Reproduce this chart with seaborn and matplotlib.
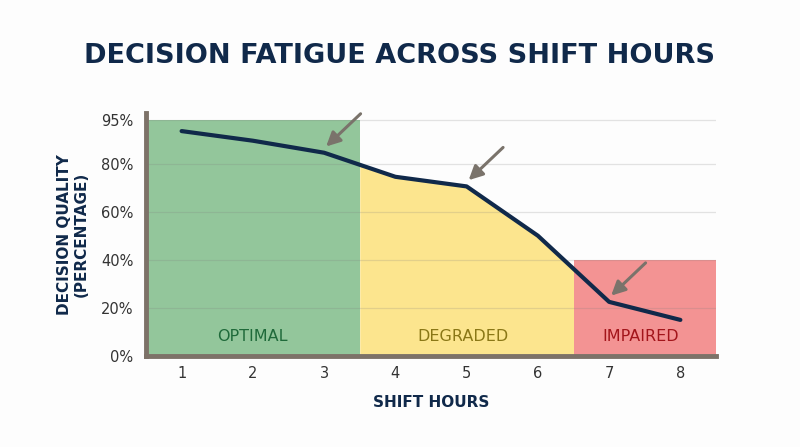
import numpy as np
import pandas as pd
import matplotlib
matplotlib.use("Agg")
import matplotlib.pyplot as plt
import seaborn as sns

# ---- data ----
hours = [1, 2, 3, 4, 5, 6, 7, 8]
quality = [93.5, 89.5, 84.5, 74.5, 70.5, 50, 22.5, 15]
ytick_vals = [0, 20, 40, 60, 80, 98]
ytick_labels = ["0%", "20%", "40%", "60%", "80%", "95%"]
zones = ["OPTIMAL", "DEGRADED", "IMPAIRED"]
zone_ranges = [(0.5, 3.5), (3.5, 6.5), (6.5, 8.5)]
zone_tops = [98, None, 40]  # None -> filled under curve
arrow_hours = [3, 5, 7]

title = "DECISION FATIGUE ACROSS SHIFT HOURS"
xlabel = "SHIFT HOURS"
ylabel = "DECISION QUALITY\n(PERCENTAGE)"

sns.set_theme(style="white")
plt.rcParams['font.family'] = ['DejaVu Sans']

navy = "#10294a"
fig = plt.figure(figsize=(8, 4.47), dpi=100)
fig.patch.set_facecolor("#fdfdfd")
ax = fig.add_axes([0.1825, 0.2036, 0.7125, 0.5435])
ax.set_facecolor("#fdfdfd")

df = pd.DataFrame({"hour": hours, "quality": quality})

zone_fill = ["#93c69b", "#fce58e", "#f39393"]
zone_text = ["#1f6a3a", "#8a7716", "#a3151b"]

# green zone
ax.fill_between(zone_ranges[0], [0, 0], [zone_tops[0]] * 2, color=zone_fill[0], lw=0, zorder=1)
# yellow zone: under curve
xx = np.linspace(zone_ranges[1][0], zone_ranges[1][1], 200)
yy = np.interp(xx, hours, quality)
ax.fill_between(xx, 0, yy, color=zone_fill[1], lw=0, zorder=1)
# red zone
ax.fill_between(zone_ranges[2], [0, 0], [zone_tops[2]] * 2, color=zone_fill[2], lw=0, zorder=1)

# gridlines
for v in ytick_vals[1:]:
    ax.axhline(v, color="#7a7a7a", alpha=0.2, lw=0.9, zorder=2)

sns.lineplot(data=df, x="hour", y="quality", color=navy, lw=3.0, ax=ax, zorder=4)

# zone labels
label_x = [2.0, 4.95, 7.45]
for name, lx, c in zip(zones, label_x, zone_text):
    ax.text(lx, 8, name, ha="center", va="center", fontsize=11.5, color=c, zorder=5)

# arrows
for h in arrow_hours:
    q = quality[hours.index(h)]
    ax.annotate("", xy=(h, q + 1.8), xytext=(h + 0.54, q + 17),
                arrowprops=dict(arrowstyle="-|>,head_length=0.7,head_width=0.35",
                                color="#7a736b", lw=2.2), zorder=6)

ax.set_xlim(0.5, 8.5)
ax.set_ylim(0, 101)
ax.set_xticks(hours)
ax.set_xticklabels([str(h) for h in hours], fontsize=10.5, color="#333333")
ax.set_yticks(ytick_vals)
ax.set_yticklabels(ytick_labels, fontsize=10.5, color="#333333")
ax.tick_params(axis="y", length=0, pad=9)
ax.tick_params(axis="x", length=0, pad=7)

for s in ["top", "right"]:
    ax.spines[s].set_visible(False)
for s in ["left", "bottom"]:
    ax.spines[s].set_color("#7d7268")
    ax.spines[s].set_linewidth(3.5)
    ax.spines[s].set_zorder(7)

ax.set_xlabel(xlabel, fontsize=11, fontweight="bold", color=navy, labelpad=10)
ax.set_ylabel(ylabel, fontsize=11, fontweight="bold", color=navy, labelpad=9, linespacing=1.1)

fig.text(0.5, 0.875, title, ha="center", va="center", fontsize=19.5,
         fontweight="bold", color=navy)

fig.savefig("out.png", dpi=100, facecolor=fig.get_facecolor())
